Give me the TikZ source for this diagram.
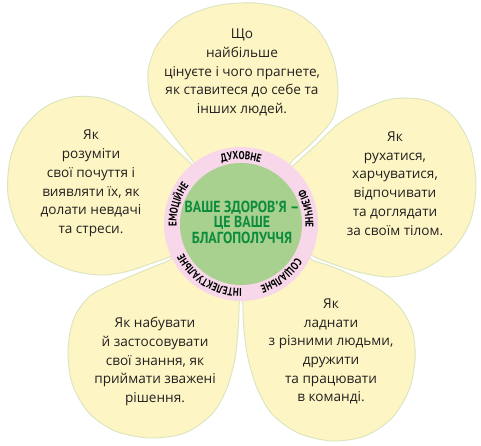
\documentclass[tikz,border=0pt]{standalone}
\usepackage{fontspec}
\setmainfont{Open Sans}
\newfontfamily\condfont[FakeStretch=0.87]{PT Sans}
\newfontfamily\ringfamily[FakeStretch=0.8]{PT Sans}
\usetikzlibrary{decorations.text}
\definecolor{petalfill}{RGB}{253,246,196}
\definecolor{petalline}{RGB}{218,228,190}
\definecolor{ringpink}{RGB}{247,215,233}
\definecolor{heartgreen}{RGB}{168,208,142}
\definecolor{titlegreen}{RGB}{12,140,60}
\definecolor{bodytext}{RGB}{35,31,32}
\newcommand\ringfont{\ringfamily\bfseries\fontsize{11.3}{12}\selectfont}
\tikzset{
  petal/.style={fill=petalfill, draw=petalline, line width=0.9pt},
  petaltext/.style={text=bodytext, align=center, inner sep=0pt,
    font=\fontsize{13.6}{18.7}\selectfont},
  hubtext/.style={text=titlegreen, align=center, inner sep=0pt,
    font=\condfont\bfseries\fontsize{16}{15.5}\selectfont},
}
\begin{document}
\begin{tikzpicture}[x=1pt,y=1pt]
\useasboundingbox (0,0) rectangle (481,446);
\fill[white] (0,0) rectangle (481,446);
\coordinate (c) at (241,222);
\begin{scope}[shift={(0,446)}, yscale=-1]
  % top petal
  \draw[petal] plot[smooth cycle] coordinates {(205,176) (195,164) (179,143) (163,121) (151,100) (148,72) (157,45) (180,20) (215,6) (255,3) (292,11) (318,30) (333,58) (338,90) (333,118) (314,141) (292,161) (279,176)};
  % left petal
  \draw[petal] plot[smooth cycle] coordinates {(196,178) (193,166) (172,146) (150,124) (125,108) (100,98) (72,97) (45,107) (22,130) (10,160) (8,195) (18,228) (40,255) (70,270) (100,275) (125,272) (150,264) (172,256) (184,248)};
  % right petal
  \draw[petal] plot[smooth cycle] coordinates {(286,176) (294,165) (315,146) (338,124) (362,110) (392,99) (425,100) (452,115) (470,145) (476,185) (470,222) (452,250) (422,270) (390,277) (358,272) (330,263) (313,256) (302,246)};
  % bottom-right petal
  \draw[petal] plot[smooth cycle] coordinates {(300,252) (312,260) (333,267) (358,278) (383,292) (402,310) (413,333) (415,360) (409,390) (392,418) (365,436) (332,441) (298,433) (272,414) (257,388) (248,358) (244,330) (243,305) (246,292)};
  % bottom-left petal
  \draw[petal] plot[smooth cycle] coordinates {(236,292) (239,305) (238,330) (235,358) (227,388) (212,414) (185,433) (150,438) (115,431) (88,412) (72,383) (68,350) (74,318) (90,296) (115,283) (148,269) (170,260) (182,252)};
\end{scope}
\fill[ringpink] (c) circle[radius=77];
\fill[heartgreen] (c) circle[radius=61];
\node[hubtext] (hub) at (242,224) {ВАШЕ ЗДОРОВ’Я –\\ЦЕ ВАШЕ\\БЛАГОПОЛУЧЧЯ};
\path[decorate, decoration={text along path, text align=center, text={|\ringfont|ДУХОВНЕ}}]
  (c) ++(150:64.5) arc[start angle=150, end angle=30, radius=64.5];
\path[decorate, decoration={text along path, text align=center, text={|\ringfont|ФІЗИЧНЕ}}]
  (c) ++(73:64.5) arc[start angle=73, end angle=-47, radius=64.5];
\path[decorate, decoration={text along path, text align=center, text={|\ringfont|СОЦІАЛЬНЕ}}]
  (c) ++(8:64.5) arc[start angle=8, end angle=-112, radius=64.5];
\path[decorate, decoration={text along path, text align=center, text={|\ringfont|ІНТЕЛЕКТУАЛЬНЕ}}]
  (c) ++(-61:64.5) arc[start angle=-61, end angle=-181, radius=64.5];
\path[decorate, decoration={text along path, text align=center, text={|\ringfont|ЕМОЦІЙНЕ}}]
  (c) ++(223:64.5) arc[start angle=223, end angle=103, radius=64.5];
\node[petaltext] (ttop) at (242,373.5) {Що\\найбільше\\цінуєте і чого прагнете,\\як ставитеся до себе та\\інших людей.};
\node[petaltext] (tleft) at (91,262.5) {Як\\розуміти\\свої почуття і\\виявляти їх, як\\долати невдачі\\та стреси.};
\node[petaltext] (tright) at (395,262.5) {Як\\рухатися,\\харчуватися,\\відпочивати\\та доглядати\\за своїм тілом.};
\node[petaltext] (tbl) at (155,84.5) {Як набувати\\й застосовувати\\свої знання, як\\приймати зважені\\рішення.};
\node[petaltext] (tbr) at (331,94.5) {Як\\ладнати\\з різними людьми,\\дружити\\та працювати\\в команді.};
\end{tikzpicture}
\end{document}
